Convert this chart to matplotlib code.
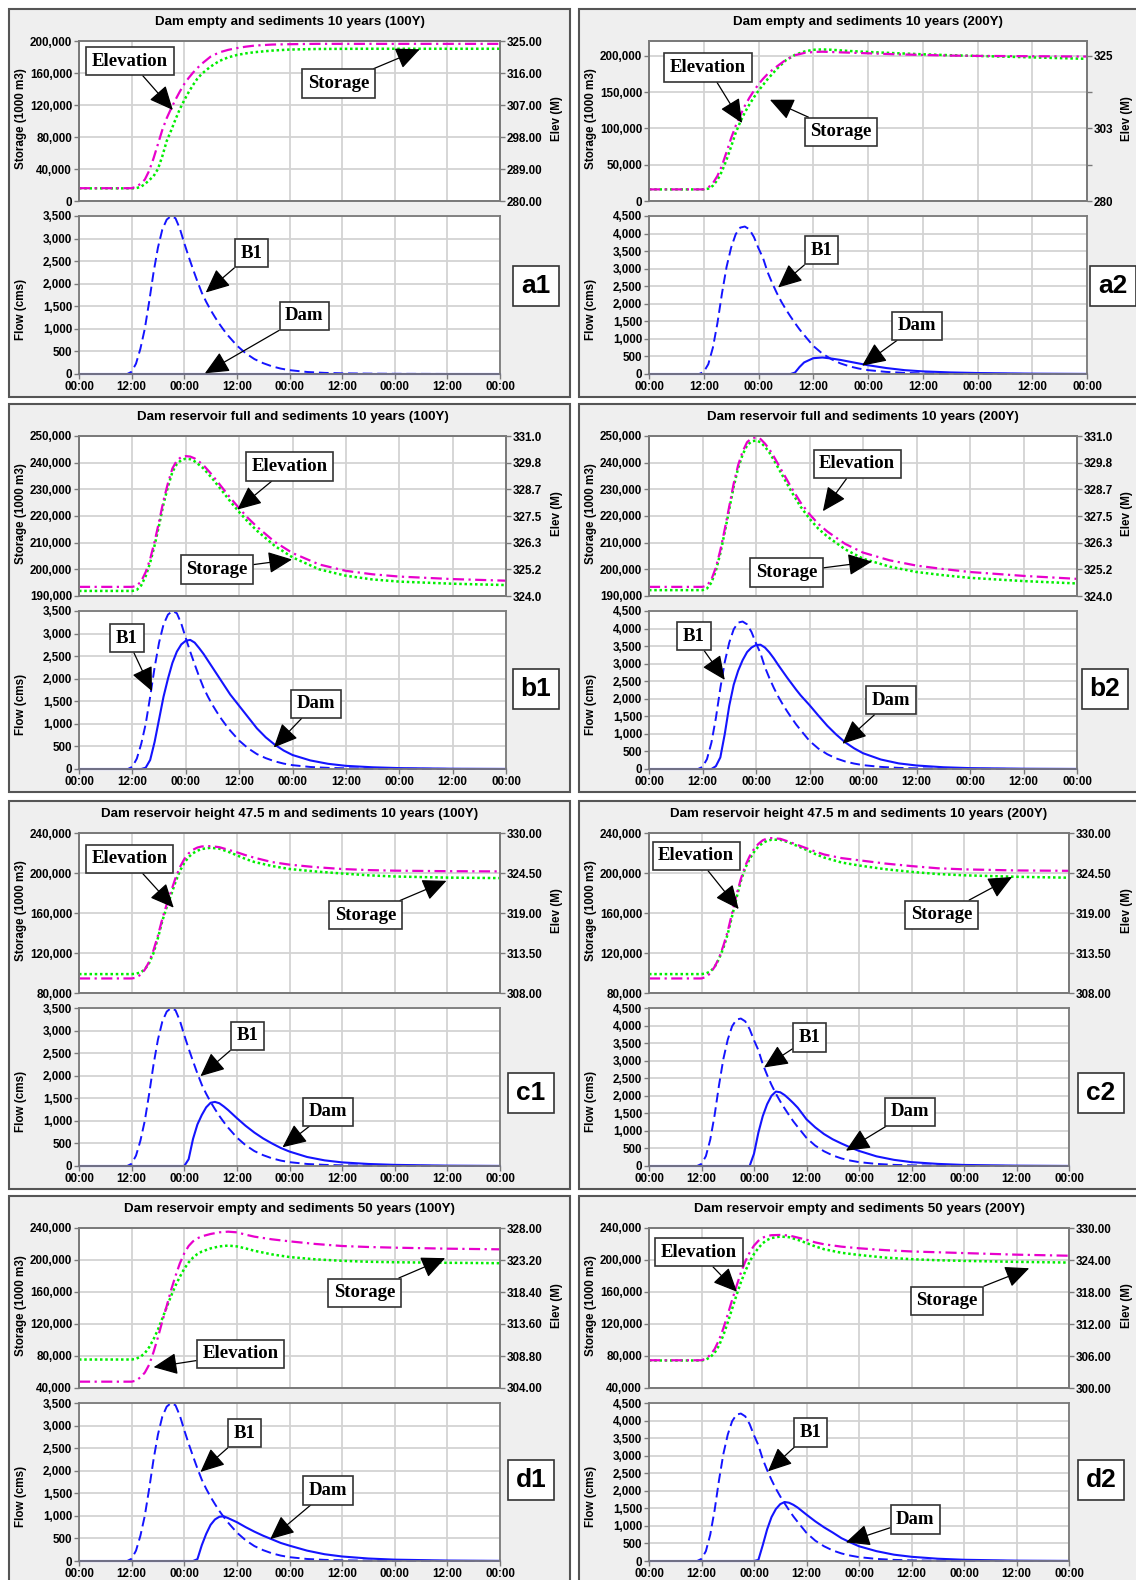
import matplotlib.pyplot as plt
from matplotlib.patches import Rectangle

W, H = 1136, 1580

SANS = ['Liberation Sans', 'DejaVu Sans']
SERIF = ['Liberation Serif', 'DejaVu Serif']
plt.rcParams['font.family'] = SANS
plt.rcParams['font.weight'] = 'bold'

# time axis, hours counted from the first 00:00 tick
HOUR_TICKS = [0, 12, 24, 36, 48, 60, 72, 84, 96]
HOUR_LABELS = ['00:00', '12:00', '00:00', '12:00', '00:00', '12:00', '00:00', '12:00', '00:00']

# ---- flow hydrographs (cms) ----
FLOW_T = [0, 11, 12, 13, 14, 15, 16, 17, 18, 19, 20, 21, 22, 23, 24, 25, 26, 27, 28, 29, 30, 31, 32, 33, 34,
          36, 38, 40, 42, 44, 46, 48, 52, 56, 60, 66, 72, 84, 96]

B1_100Y = [0, 0, 50, 230, 560, 1000, 1600, 2250, 2800, 3200, 3420, 3500, 3450, 3220, 2900, 2600, 2320, 2050,
           1800, 1600, 1420, 1260, 1110, 975, 850, 630, 460, 330, 240, 170, 120, 85, 45, 25, 15, 8, 4, 1, 0]
B1_200Y = [0, 0, 60, 280, 750, 1450, 2300, 3050, 3600, 3980, 4170, 4200, 4120, 3900, 3580, 3300, 2900, 2590,
           2310, 2060, 1840, 1640, 1450, 1270, 1110, 800, 580, 420, 300, 215, 155, 110, 60, 32, 18, 9, 4, 1, 0]

DAM_A1_T = [0, 96]
DAM_A1 = [0, 0]
DAM_A2 = [0, 0, 0, 0, 0, 0, 0, 0, 0, 0, 0, 0, 0, 0, 0, 0, 0, 0, 0, 0, 0, 0, 40, 200, 330,
          450, 470, 440, 400, 350, 300, 250, 170, 110, 75, 45, 28, 10, 3]
DAM_B1 = [0, 0, 0, 0, 0, 30, 200, 600, 1100, 1600, 2000, 2350, 2600, 2760, 2840, 2860, 2800, 2680, 2550,
          2400, 2250, 2100, 1950, 1800, 1650, 1400, 1150, 900, 700, 540, 410, 310, 190, 115, 70, 38, 20, 6, 2]
DAM_B2 = [0, 0, 0, 0, 0, 80, 330, 1000, 1800, 2400, 2800, 3100, 3330, 3460, 3530, 3540, 3460, 3320, 3150,
          2960, 2780, 2600, 2430, 2260, 2100, 1820, 1520, 1230, 980, 760, 590, 450, 270, 160, 100, 50, 25, 8, 2]
DAM_C1 = [0, 0, 0, 0, 0, 0, 0, 0, 0, 0, 0, 0, 0, 0, 0, 150, 600, 920, 1130, 1300, 1400, 1420, 1390, 1320, 1240,
          1060, 890, 740, 610, 500, 400, 320, 200, 125, 80, 45, 25, 8, 2]
DAM_C2 = [0, 0, 0, 0, 0, 0, 0, 0, 0, 0, 0, 0, 0, 0, 350, 950, 1420, 1760, 2000, 2120, 2100, 2020, 1910, 1790, 1660,
          1330, 1100, 910, 760, 640, 530, 430, 275, 175, 110, 60, 30, 10, 2]
DAM_D1 = [0, 0, 0, 0, 0, 0, 0, 0, 0, 0, 0, 0, 0, 0, 0, 0, 0, 40, 350, 600, 800, 920, 980, 990, 950,
          860, 750, 650, 560, 480, 400, 340, 230, 150, 100, 55, 30, 10, 3]
DAM_D2 = [0, 0, 0, 0, 0, 0, 0, 0, 0, 0, 0, 0, 0, 0, 0, 30, 450, 900, 1250, 1480, 1620, 1680, 1660, 1600, 1520,
          1320, 1130, 960, 810, 650, 530, 420, 280, 180, 120, 65, 35, 10, 3]

# ---- reservoir storage (1000 m3) and elevation (m) ----
TOP_T = [0, 12, 13, 14, 15, 16, 17, 18, 19, 20, 21, 22, 23, 24, 25, 26, 27, 28, 30, 32, 34, 36, 38, 40, 44, 48,
         54, 60, 66, 72, 84, 96]

STOR_A1 = [15800, 15800, 16000, 17500, 21000, 26000, 31000, 40000, 56000, 75000, 88000, 102000, 115000, 126000,
           136000, 145000, 153000, 159000, 168000, 175000, 179500, 182500, 184500, 186000, 188000, 189300,
           190000, 190200, 190300, 190300, 190300, 190300]
ELEV_A1 = [283.6, 283.6, 284.0, 284.8, 286.0, 288.5, 292.0, 296.0, 300.0, 303.3, 306.0, 308.5, 310.8, 312.9,
           314.6, 316.1, 317.4, 318.6, 320.6, 321.8, 322.5, 323.0, 323.4, 323.7, 324.0, 324.1, 324.2, 324.2,
           324.2, 324.2, 324.2, 324.2]
STOR_A2 = [16000, 16000, 17000, 21000, 29000, 41000, 57000, 75000, 94000, 109000, 122000, 133000, 143000, 152000,
           160000, 168000, 175000, 182000, 194000, 201500, 206000, 208500, 209000, 208500, 206800, 205500,
           203800, 202300, 201000, 200000, 198000, 196000]
ELEV_A2 = [283.6, 283.6, 284.2, 285.5, 287.8, 291.0, 295.2, 299.5, 303.3, 306.5, 309.5, 312.0, 314.2, 316.2,
           317.9, 319.4, 320.6, 321.7, 323.8, 325.2, 325.9, 326.2, 326.3, 326.2, 326.0, 325.8, 325.5, 325.3,
           325.1, 325.0, 324.9, 324.8]
STOR_B1 = [191900, 191900, 192300, 194000, 197500, 202500, 209000, 216500, 224500, 231000, 236500, 239500,
           241000, 241500, 241300, 240500, 239200, 237800, 234000, 229800, 225500, 221500, 217800, 214500,
           208800, 204500, 200000, 197600, 196200, 195400, 194600, 194100]
ELEV_B1 = [324.40, 324.40, 324.45, 324.65, 325.05, 325.62, 326.38, 327.25, 328.18, 328.94, 329.58, 329.93,
           330.08, 330.12, 330.10, 330.02, 329.88, 329.72, 329.28, 328.79, 328.30, 327.84, 327.41, 327.03,
           326.37, 325.88, 325.38, 325.10, 324.95, 324.85, 324.74, 324.67]
STOR_B2 = [192200, 192200, 192800, 195000, 199500, 206000, 214000, 222500, 231000, 238000, 243000, 246500,
           248000, 248300, 247700, 246000, 243800, 241000, 235000, 229000, 223500, 219000, 215200, 212300,
           207500, 204000, 201000, 199000, 197800, 196800, 195600, 194700]
ELEV_B2 = [324.40, 324.40, 324.46, 324.72, 325.25, 326.00, 326.93, 327.92, 328.92, 329.73, 330.32, 330.73,
           330.90, 330.94, 330.87, 330.67, 330.42, 330.10, 329.41, 328.72, 328.09, 327.58, 327.15, 326.82,
           326.28, 325.90, 325.56, 325.33, 325.18, 325.05, 324.88, 324.75]
STOR_C1 = [98900, 98900, 99300, 100500, 103500, 110000, 120000, 135000, 152000, 166000, 178000, 191000, 202000,
           210000, 216000, 219800, 222300, 224000, 225200, 224300, 221300, 217700, 214000, 211000, 207000,
           204000, 201500, 199500, 197700, 196500, 195400, 194900]
ELEV_C1 = [310.0, 310.0, 310.1, 310.5, 311.2, 312.3, 313.9, 315.9, 318.2, 320.2, 322.0, 323.8, 325.3, 326.4,
           327.2, 327.7, 328.0, 328.15, 328.2, 328.05, 327.7, 327.35, 326.95, 326.6, 326.0, 325.65, 325.3,
           325.05, 324.9, 324.82, 324.75, 324.72]
STOR_C2 = [98900, 98900, 99500, 101500, 106000, 114000, 125000, 139000, 157000, 175000, 192000, 205000, 214000,
           221000, 226500, 230000, 232200, 233300, 233200, 230500, 226800, 223100, 219000, 215500, 210500,
           207500, 203800, 201100, 199000, 197700, 196200, 195300]
ELEV_C2 = [310.0, 310.0, 310.2, 310.7, 311.6, 312.8, 314.5, 316.5, 319.0, 321.5, 323.7, 325.5, 326.8, 327.8,
           328.5, 329.0, 329.25, 329.3, 329.2, 328.8, 328.35, 327.9, 327.45, 327.05, 326.55, 326.25, 325.8,
           325.45, 325.15, 325.0, 324.85, 324.8]
STOR_D1 = [75600, 75600, 76500, 79000, 83500, 91000, 101000, 113000, 127000, 141000, 155000, 168000, 179000,
           189000, 197000, 203000, 207500, 210500, 214500, 217000, 218000, 217000, 214500, 211500, 207000,
           203700, 200800, 199000, 197800, 197200, 196500, 196000]
ELEV_D1 = [304.95, 304.95, 305.1, 305.6, 306.3, 307.5, 309.4, 311.6, 314.0, 316.3, 318.7, 320.8, 322.7, 324.2,
           325.3, 326.0, 326.45, 326.75, 327.1, 327.35, 327.45, 327.35, 327.0, 326.7, 326.3, 326.0, 325.6,
           325.3, 325.15, 325.05, 324.9, 324.8]
STOR_D2 = [74400, 74400, 75500, 78500, 84000, 93000, 106000, 122000, 139000, 156000, 172000, 186000, 198000,
           207500, 215000, 221000, 225000, 227500, 229300, 228500, 225200, 221200, 217000, 213500, 209000,
           206300, 203000, 201000, 199700, 198900, 197700, 196800]
ELEV_D2 = [305.2, 305.2, 305.5, 306.2, 307.3, 309.0, 311.2, 313.8, 316.5, 319.1, 321.6, 323.7, 325.4, 326.7,
           327.6, 328.2, 328.5, 328.65, 328.7, 328.6, 328.2, 327.8, 327.3, 326.95, 326.5, 326.2, 325.85, 325.6,
           325.45, 325.3, 325.0, 324.8]

TITLES = {
    'a1': 'Dam empty and sediments 10 years (100Y)',
    'a2': 'Dam empty and sediments 10 years (200Y)',
    'b1': 'Dam reservoir full and sediments 10 years (100Y)',
    'b2': 'Dam reservoir full and sediments 10 years (200Y)',
    'c1': 'Dam reservoir height 47.5 m and sediments 10 years (100Y)',
    'c2': 'Dam reservoir height 47.5 m and sediments 10 years (200Y)',
    'd1': 'Dam reservoir empty and sediments 50 years (100Y)',
    'd2': 'Dam reservoir empty and sediments 50 years (200Y)',
}

# axis scales per panel
STOR_LIM = {'a1': (0, 200000), 'a2': (0, 220600), 'b1': (190000, 250000), 'b2': (190000, 250000),
            'c1': (80000, 240000), 'c2': (80000, 240000), 'd1': (40000, 240000), 'd2': (40000, 240000)}
STOR_TICKS = {'a1': [0, 40000, 80000, 120000, 160000, 200000],
              'a2': [0, 50000, 100000, 150000, 200000],
              'b1': [190000, 200000, 210000, 220000, 230000, 240000, 250000],
              'b2': [190000, 200000, 210000, 220000, 230000, 240000, 250000],
              'c1': [80000, 120000, 160000, 200000, 240000],
              'c2': [80000, 120000, 160000, 200000, 240000],
              'd1': [40000, 80000, 120000, 160000, 200000, 240000],
              'd2': [40000, 80000, 120000, 160000, 200000, 240000]}
ELEV_LIM = {'a1': (280, 325), 'a2': (280, 329.62), 'b1': (324, 331), 'b2': (324, 331),
            'c1': (308, 330), 'c2': (308, 330), 'd1': (304, 328), 'd2': (300, 330)}
ELEV_TICKS = {'a1': [280, 289, 298, 307, 316, 325],
              'a2': [280, 291.25, 302.5, 313.75, 325],
              'b1': [324, 325.1667, 326.3333, 327.5, 328.6667, 329.8333, 331],
              'b2': [324, 325.1667, 326.3333, 327.5, 328.6667, 329.8333, 331],
              'c1': [308, 313.5, 319, 324.5, 330],
              'c2': [308, 313.5, 319, 324.5, 330],
              'd1': [304, 308.8, 313.6, 318.4, 323.2, 328],
              'd2': [300, 306, 312, 318, 324, 330]}
ELEV_LABELS = {'a1': ['280.00', '289.00', '298.00', '307.00', '316.00', '325.00'],
               'a2': ['280', '', '303', '', '325'],
               'b1': ['324.0', '325.2', '326.3', '327.5', '328.7', '329.8', '331.0'],
               'b2': ['324.0', '325.2', '326.3', '327.5', '328.7', '329.8', '331.0'],
               'c1': ['308.00', '313.50', '319.00', '324.50', '330.00'],
               'c2': ['308.00', '313.50', '319.00', '324.50', '330.00'],
               'd1': ['304.00', '308.80', '313.60', '318.40', '323.20', '328.00'],
               'd2': ['300.00', '306.00', '312.00', '318.00', '324.00', '330.00']}
FLOW_MAX = {'a1': 3500, 'a2': 4500, 'b1': 3500, 'b2': 4500, 'c1': 3500, 'c2': 4500, 'd1': 3500, 'd2': 4500}

SERIES = {
    'a1': (STOR_A1, ELEV_A1, B1_100Y, DAM_A1_T, DAM_A1),
    'a2': (STOR_A2, ELEV_A2, B1_200Y, FLOW_T, DAM_A2),
    'b1': (STOR_B1, ELEV_B1, B1_100Y, FLOW_T, DAM_B1),
    'b2': (STOR_B2, ELEV_B2, B1_200Y, FLOW_T, DAM_B2),
    'c1': (STOR_C1, ELEV_C1, B1_100Y, FLOW_T, DAM_C1),
    'c2': (STOR_C2, ELEV_C2, B1_200Y, FLOW_T, DAM_C2),
    'd1': (STOR_D1, ELEV_D1, B1_100Y, FLOW_T, DAM_D1),
    'd2': (STOR_D2, ELEV_D2, B1_200Y, FLOW_T, DAM_D2),
}

# callout boxes: (text position, arrow tip) in data units (hours, storage / flow)
CALLOUTS = {
    'a1': {'Elevation': ((11.6, 175000), (21.4, 113750)), 'Storage': ((59.2, 147000), (77.7, 189600)),
           'B1': ((39.3, 2675), (28.9, 1805)), 'Dam': ((51.4, 1290), (28.7, 15))},
    'a2': {'Elevation': ((12.9, 184000), (20.4, 107500)), 'Storage': ((42.1, 95200), (26.5, 139600)),
           'B1': ((37.8, 3524), (28.3, 2463)), 'Dam': ((58.8, 1374), (46.7, 237))},
    'b1': {'Elevation': ((47.3, 238550), (35.6, 222400)), 'Storage': ((31.0, 199960), (47.9, 203700)),
           'B1': ((10.8, 2898), (16.4, 1724)), 'Dam': ((53.2, 1446), (43.8, 477))},
    'b2': {'Elevation': ((46.7, 239500), (39.0, 221800)), 'Storage': ((30.9, 198800), (50.0, 202900)),
           'B1': ((10.1, 3782), (17.0, 2537)), 'Dam': ((54.2, 1963), (43.4, 718))},
    'c1': {'Elevation': ((11.5, 214100), (21.6, 165300)), 'Storage': ((65.3, 157800), (83.8, 192200)),
           'B1': ((38.4, 2883), (27.7, 1990)), 'Dam': ((56.8, 1204), (46.4, 414))},
    'c2': {'Elevation': ((10.8, 217000), (20.5, 163900)), 'Storage': ((66.9, 158200), (83.0, 196000)),
           'B1': ((36.7, 3658), (26.3, 2806)), 'Dam': ((59.7, 1548), (45.0, 435))},
    'd1': {'Elevation': ((36.8, 82800), (17.0, 66000)), 'Storage': ((65.1, 159100), (83.5, 202300)),
           'B1': ((37.7, 2830), (27.7, 1973)), 'Dam': ((56.8, 1564), (43.6, 484))},
    'd2': {'Elevation': ((11.4, 209800), (20.1, 160300)), 'Storage': ((68.1, 149000), (86.9, 189700)),
           'B1': ((36.9, 3662), (27.2, 2553)), 'Dam': ((60.9, 1185), (45.0, 530))},
}

# layout in pixels
ROW_TOP = {'a': 9, 'b': 404, 'c': 801, 'd': 1196}
PLOT_RIGHT = {'a1': 500, 'a2': 1087, 'b1': 506, 'b2': 1077, 'c1': 500, 'c2': 1069, 'd1': 500, 'd2': 1069}
TAG_POS = {'a1': (536, 286), 'a2': (1113, 286), 'b1': (536, 689), 'b2': (1105, 689),
           'c1': (531, 1093), 'c2': (1101, 1093), 'd1': (531, 1480), 'd2': (1101, 1480)}

MAGENTA = '#e800cc'
GREEN = '#00ee00'
BLUE = '#1414ff'
SPINE = '#7a7a7a'
GRID = '#d3d3d3'
TICK_FS = 8.4

fig = plt.figure(figsize=(W / 100, H / 100), dpi=100)
fig.patch.set_facecolor('white')


def px_rect(x0, y0, x1, y1):
    return [x0 / W, 1 - y1 / H, (x1 - x0) / W, (y1 - y0) / H]


def fx(x):
    return x / W


def fy(y):
    return 1 - y / H


def style(ax):
    ax.set_facecolor('white')
    for s in ax.spines.values():
        s.set_color(SPINE)
        s.set_linewidth(1.3)
    ax.grid(True, color=GRID, lw=1.3)
    ax.set_axisbelow(True)
    ax.tick_params(direction='out', length=3.5, width=1, color=SPINE, labelsize=TICK_FS, pad=1.5)
    ax.set_xlim(0, 96)
    ax.set_xticks(HOUR_TICKS)


def callout(host, ref, text, pos, tip):
    host.annotate(text, xy=tip, xytext=pos, xycoords=ref.transData, textcoords=ref.transData,
                  ha='center', va='center', fontsize=13.5, family=SERIF, fontweight='bold',
                  bbox=dict(boxstyle='square,pad=0.3', fc='white', ec='#333333', lw=1.2),
                  arrowprops=dict(arrowstyle='-|>,head_length=1.1,head_width=0.5', color='black',
                                  lw=0.9, shrinkA=0, shrinkB=0),
                  annotation_clip=False, zorder=10)


for key in ['a1', 'a2', 'b1', 'b2', 'c1', 'c2', 'd1', 'd2']:
    P = ROW_TOP[key[0]]
    left_col = key[1] == '1'
    x0 = 9 if left_col else 579
    x1 = 570 if left_col else 1145
    fig.patches.append(Rectangle((fx(x0), fy(P + 388)), fx(x1) - fx(x0), fy(P) - fy(P + 388),
                                 transform=fig.transFigure, fc='#efefef', ec='#555555', lw=1.5, zorder=-5))

    pl = x0 + 70
    pr = PLOT_RIGHT[key]
    stor, elev, b1, dam_t, dam = SERIES[key]

    # storage / elevation plot
    ax_top = fig.add_axes(px_rect(pl, P + 32, pr, P + 192))
    style(ax_top)
    ax_top.tick_params(axis='x', length=0, labelbottom=False)
    ax_top.plot(TOP_T, stor, color=GREEN, lw=1.8, linestyle=(0, (1, 1.1)))
    ax_top.set_ylim(*STOR_LIM[key])
    ax_top.set_yticks(STOR_TICKS[key])
    ax_top.set_yticklabels([f'{v:,}' for v in STOR_TICKS[key]])

    ax_el = ax_top.twinx()
    ax_el.plot(TOP_T, elev, color=MAGENTA, lw=1.6, linestyle=(0, (5, 2, 1, 2)))
    ax_el.set_ylim(*ELEV_LIM[key])
    ax_el.set_yticks(ELEV_TICKS[key])
    ax_el.set_yticklabels(ELEV_LABELS[key])
    for s in ax_el.spines.values():
        s.set_color(SPINE)
        s.set_linewidth(1.3)
    ax_el.tick_params(direction='out', length=3.5, width=1, color=SPINE, labelsize=TICK_FS, pad=1.5)

    # flow plot
    ax_bot = fig.add_axes(px_rect(pl, P + 207, pr, P + 365))
    style(ax_bot)
    ax_bot.plot(FLOW_T, b1, color=BLUE, lw=1.4, linestyle=(0, (5, 2.5)), clip_on=False)
    ax_bot.plot(dam_t, dam, color=BLUE, lw=1.5, clip_on=False)
    fmax = FLOW_MAX[key]
    fticks = list(range(0, fmax + 1, 500))
    ax_bot.set_ylim(0, fmax)
    ax_bot.set_yticks(fticks)
    ax_bot.set_yticklabels([f'{v:,}' for v in fticks])
    ax_bot.set_xticklabels(HOUR_LABELS)

    # texts
    fig.text(fx((pl + pr) / 2), fy(P + 13), TITLES[key], ha='center', va='center', fontsize=9.6)
    fig.text(fx(x0 + 12), fy(P + 110), 'Storage (1000 m3)', rotation=90, ha='center', va='center',
             fontsize=8.4)
    fig.text(fx(x0 + 12), fy(P + 300), 'Flow (cms)', rotation=90, ha='center', va='center', fontsize=8.4)
    fig.text(fx(x0 + 548), fy(P + 110), 'Elev (M)', rotation=90, ha='center', va='center', fontsize=8.4)
    tx, ty = TAG_POS[key]
    fig.text(fx(tx), fy(ty), key, ha='center', va='center', fontsize=19, fontweight='bold',
             bbox=dict(boxstyle='square,pad=0.3', fc='white', ec='#333333', lw=1.2))

    co = CALLOUTS[key]
    callout(ax_el, ax_top, 'Elevation', *co['Elevation'])
    callout(ax_el, ax_top, 'Storage', *co['Storage'])
    callout(ax_bot, ax_bot, 'B1', *co['B1'])
    callout(ax_bot, ax_bot, 'Dam', *co['Dam'])

fig.savefig('out.png', dpi=100)
